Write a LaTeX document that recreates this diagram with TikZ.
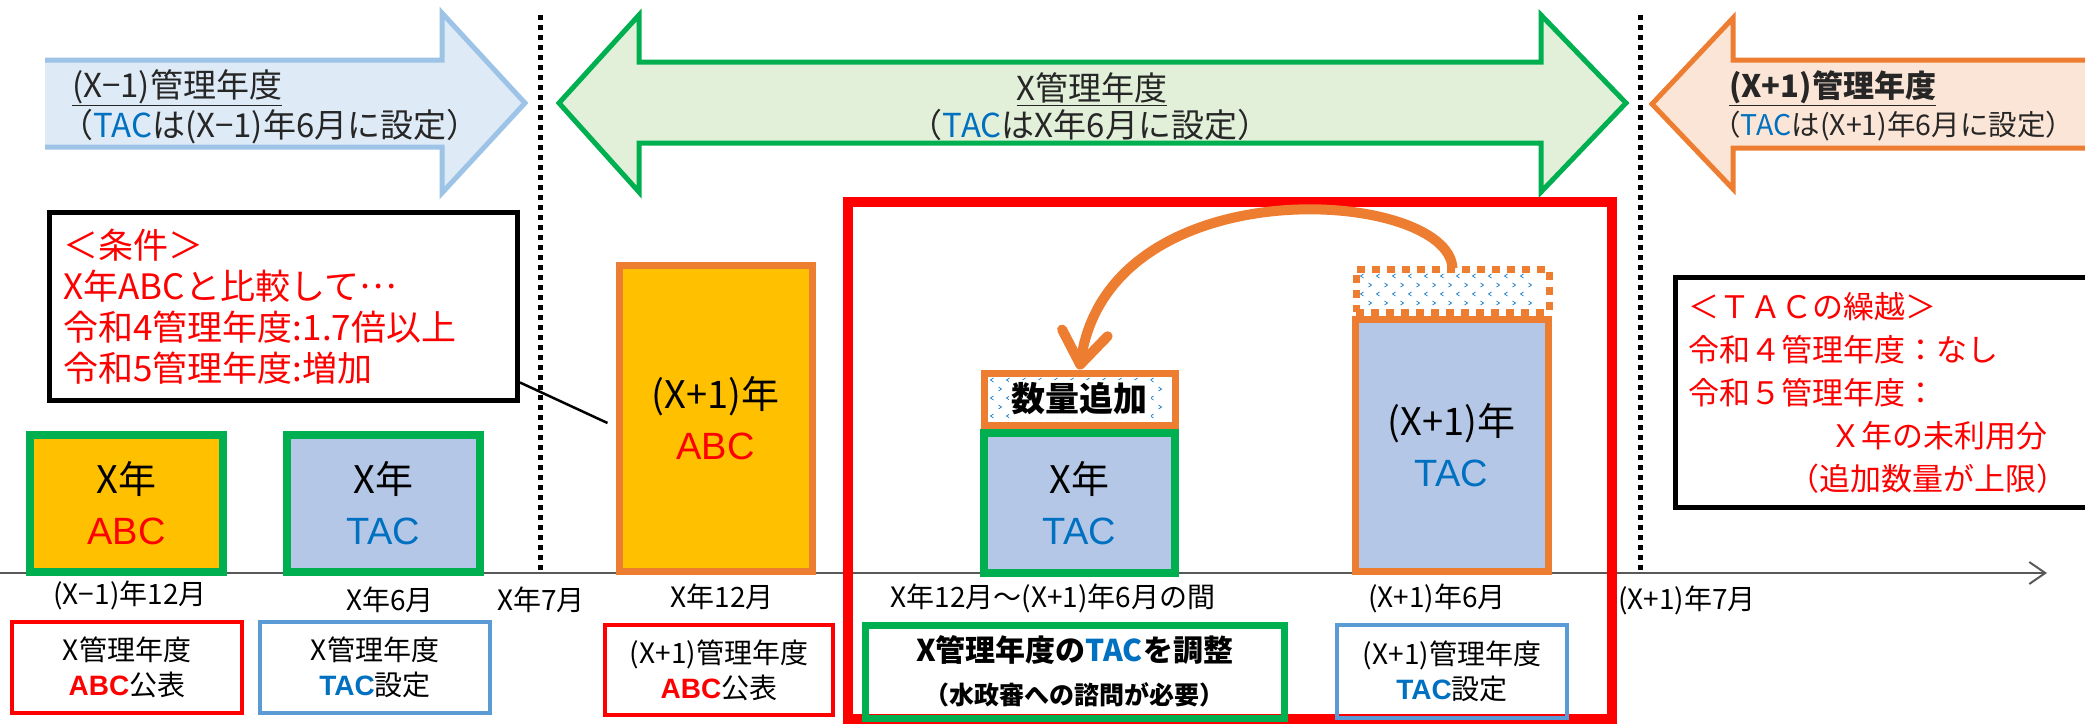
\documentclass[tikz,border=0pt]{standalone}
\usepackage{fontspec}
\setmainfont{Noto Sans CJK JP}
\newfontfamily\latinfont{Liberation Sans}
\usetikzlibrary{arrows.meta}
\definecolor{abcorange}{HTML}{FFC000}
\definecolor{tacbg}{HTML}{B4C7E7}
\definecolor{tacblue}{HTML}{0070C0}
\definecolor{okgreen}{HTML}{00B050}
\definecolor{edgeorange}{HTML}{ED7D31}
\definecolor{setblue}{HTML}{5B9BD5}
\definecolor{prevfill}{HTML}{DEEBF7}
\definecolor{prevedge}{HTML}{9DC3E6}
\definecolor{curfill}{HTML}{E2F0D9}
\definecolor{nextfill}{HTML}{FBE5D6}
\definecolor{axisgray}{HTML}{595959}
\definecolor{headgray}{HTML}{262626}
% small blue chevrons: left, top, columns, rows
\newcommand\chevrows[4]{%
  \foreach \c in {0,...,#3}{\foreach \r in {0,...,#4}{%
    \pgfmathsetmacro\dir{1-2*mod(\r,2)}%
    \draw[chev] ({#1+\c*16+mod(\r,2)*8+\dir*1.5},{#2+\r*9-2}) -- ++({-\dir*3},2) -- ++({\dir*3},2);}}}
\begin{document}
\begin{tikzpicture}[x=1pt, y=-1pt,
    every node/.style={inner sep=0pt, align=center},
    bandtext/.style={text=headgray, font=\fontsize{33}{37}\selectfont},
    band/.style={line width=5pt},
    yearline/.style={line width=5pt, dash pattern=on 5pt off 5pt},
    timeaxis/.style={axisgray, line width=2pt, -{Straight Barb[length=16pt,width=22pt]}},
    amount/.style={line width=8pt, minimum width=193pt, minimum height=137pt,
      font=\fontsize{38}{51}\selectfont},
    notebox/.style={draw, line width=5pt, text=red, align=left},
    stepbox/.style={draw, line width=4pt, minimum width=230pt, minimum height=91pt,
      font=\fontsize{28}{35}\selectfont},
    datelabel/.style={font=\fontsize{28}{30}\selectfont},
    chev/.style={tacblue!85, line width=0.8pt},
    carry/.style={edgeorange, line width=10pt, -{Straight Barb[length=32pt,width=46pt,round]}},
    callout/.style={line width=2.5pt}]
  \useasboundingbox (0,0) rectangle (2085,724);

  % management years
  \fill[prevfill] (45,60) -- (442,60) -- (442,13) -- (525,103) -- (442,193) -- (442,147) -- (45,147) -- cycle;
  \draw[band, prevedge] (45,60) -- (442,60) -- (442,13) -- (525,103) -- (442,193) -- (442,147) -- (45,147);
  \filldraw[band, draw=okgreen, fill=curfill] (559,103) -- (639,15) -- (639,62) -- (1541,62) -- (1541,15)
    -- (1626,103) -- (1541,192) -- (1541,143) -- (639,143) -- (639,192) -- cycle;
  \fill[nextfill] (2095,60) -- (1733,60) -- (1733,18) -- (1652,104) -- (1733,189) -- (1733,148) -- (2095,148) -- cycle;
  \draw[band, edgeorange] (2095,60) -- (1733,60) -- (1733,18) -- (1652,104) -- (1733,189) -- (1733,148) -- (2095,148);
  \node[bandtext, anchor=west] (prevname) at (72,88) {\underline{(X−1)管理年度}};
  \node[bandtext, anchor=west] (prevsub) at (60,127) {（{\color{tacblue}TAC}は(X−1)年6月に設定）};
  \node[bandtext] (curname) at (1092,89) {\underline{X管理年度}};
  \node[bandtext] (cursub) at (1090,125) {（{\color{tacblue}TAC}はX年6月に設定）};
  \node[bandtext, anchor=west, font=\bfseries\fontsize{31}{35}\selectfont] (nextname) at (1729,88) {\underline{(X+1)管理年度}};
  \node[bandtext, anchor=west, font=\fontsize{28.5}{35}\selectfont] (nextsub) at (1712,126) {（{\color{tacblue}TAC}は(X+1)年6月に設定）};

  % time line
  \coordinate (xjul) at (540,573);
  \coordinate (njul) at (1640,573);
  \draw[yearline] (540,15) -- (xjul);
  \draw[yearline] (1640,15) -- (njul);
  \coordinate (axstart) at (0,573);
  \coordinate (axend) at (2047,573);
  \draw[timeaxis] (axstart) -- (axend);

  % notes
  \node[notebox, text width=440pt, minimum width=468pt, minimum height=188pt,
    font=\fontsize{35}{41}\selectfont] (cond) at (283.5,306.5)
    {＜条件＞\\X年ABCと比較して\raisebox{.3em}{…}\\令和4管理年度:1.7倍以上\\令和5管理年度:増加};
  \node[notebox, text width=404pt, minimum width=430pt, minimum height=230pt,
    font=\fontsize{31}{43}\selectfont, anchor=west] (carrynote) at (1673,392.5)
    {＜ＴＡＣの繰越＞\\令和４管理年度：なし\\令和５管理年度：\\\hspace*{142pt}Ｘ年の未利用分\\\hspace*{100pt}（追加数量が上限）};

  % amounts
  \node[amount, draw=okgreen, fill=abcorange] (abcX) at (126.5,503.5) {X年\\{\latinfont\color{red}ABC}};
  \node[amount, draw=okgreen, fill=tacbg] (tacX) at (383.5,503.5) {X年\\{\latinfont\color{tacblue}TAC}};
  \node[amount, draw=edgeorange, line width=7pt, fill=abcorange, minimum height=306pt] (abcN) at (715.5,418)
    {(X+1)年\\{\latinfont\color{red}ABC}};
  \node[amount, draw=okgreen, fill=tacbg, minimum width=191pt, minimum height=140pt] (tacAdj) at (1079.5,503)
    {X年\\{\latinfont\color{tacblue}TAC}};
  \chevrows{992}{380}{10}{4}
  \node[draw=edgeorange, line width=7pt, minimum width=191pt, minimum height=52pt,
    font=\bfseries\fontsize{34}{36}\selectfont] (addBox) at (1079.5,399) {\colorbox{white}{数量追加}};
  \node[amount, draw=edgeorange, line width=7pt, fill=tacbg, minimum height=252pt] (tacN) at (1451.5,445)
    {(X+1)年\\{\latinfont\color{tacblue}TAC}};
  \chevrows{1362}{276}{10}{3}
  \node[draw=edgeorange, line width=7pt, dash pattern=on 8pt off 7pt, minimum width=193pt,
    minimum height=43pt] (spare) at (1452.5,290.5) {};
  \node[draw=red, line width=10pt, minimum width=764pt, minimum height=517pt] (adjframe) at (1230,460.5) {};

  % dates
  \node[datelabel] (dPrevDec) at (130,595) {(X−1)年12月};
  \node[datelabel] (dJun) at (390,600) {X年6月};
  \node[datelabel] (dJul) at (541,600) {X年7月};
  \node[datelabel] (dDec) at (722,597) {X年12月};
  \node[datelabel] (dSpan) at (1053,598) {X年12月～(X+1)年6月の間};
  \node[datelabel] (dNextJun) at (1437,598) {(X+1)年6月};
  \node[datelabel, anchor=west] (dNextJul) at (1618,600) {(X+1)年7月};

  % steps
  \node[stepbox, draw=red] (pubX) at (127,667.5) {X管理年度\\{\latinfont\bfseries\color{red}ABC}公表};
  \node[stepbox, draw=setblue] (setX) at (375,667.5) {X管理年度\\{\latinfont\bfseries\color{tacblue}TAC}設定};
  \node[stepbox, draw=red, minimum width=228pt, minimum height=90pt] (pubN) at (719,670)
    {(X+1)管理年度\\{\latinfont\bfseries\color{red}ABC}公表};
  \node[stepbox, draw=okgreen, line width=7pt, minimum width=419pt, minimum height=93pt,
    font=\bfseries\fontsize{30}{43}\selectfont] (adjX) at (1074.5,671.5)
    {X管理年度の{\color{tacblue}TAC}を調整\\{\fontsize{25}{30}\selectfont（水政審への諮問が必要）}};
  \node[stepbox, draw=setblue, minimum height=93pt] (setN) at (1452,671.5)
    {(X+1)管理年度\\{\latinfont\bfseries\color{tacblue}TAC}設定};

  \draw[callout] ([yshift=-76pt]cond.east) -- ([xshift=-8pt,yshift=-5pt]abcN.west);
  \draw[carry] ([yshift=-3pt]spare.north) .. controls +(-3,-80) and +(30,-205) .. (addBox.north);
\end{tikzpicture}
\end{document}
